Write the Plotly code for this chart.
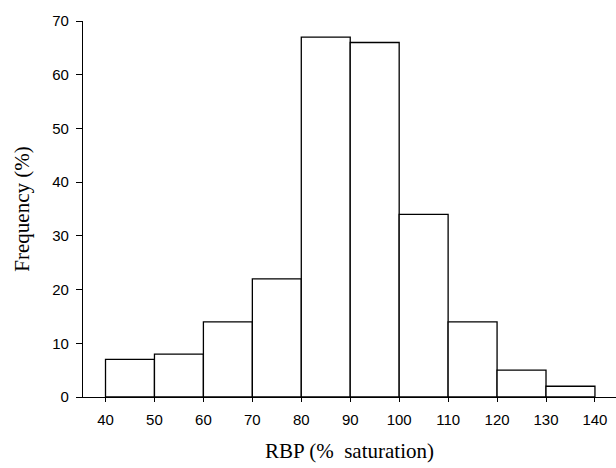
import plotly.graph_objects as go

bin_starts = [40, 50, 60, 70, 80, 90, 100, 110, 120, 130]
frequency = [7, 8, 14, 22, 67, 66, 34, 14, 5, 2]
x_ticks = [40, 50, 60, 70, 80, 90, 100, 110, 120, 130, 140]
y_ticks = [0, 10, 20, 30, 40, 50, 60, 70]
bin_width = 10

fig = go.Figure(go.Bar(
    x=[s + bin_width / 2 for s in bin_starts],
    y=frequency,
    width=bin_width,
    marker=dict(color="white", line=dict(color="black", width=1.3)),
    cliponaxis=False,
))

fig.update_layout(
    width=616, height=468,
    margin=dict(l=83, r=0, t=21, b=71, autoexpand=False),
    paper_bgcolor="white", plot_bgcolor="white",
    showlegend=False,
    font=dict(family="Liberation Sans, Arial", size=15, color="black"),
)
fig.update_xaxes(
    range=[35.4, 144.3], tickvals=x_ticks, ticks="outside", ticklen=4,
    tickcolor="black", showline=True, linecolor="black", linewidth=1.3,
    showgrid=False, zeroline=False, automargin=False, ticklabelstandoff=5,
    title=dict(text="RBP (%\u00a0\u00a0saturation)", font=dict(family="Liberation Serif, Times New Roman", size=21), standoff=16),
)
fig.update_yaxes(
    range=[0, 70], tickvals=y_ticks, ticks="outside", ticklen=6,
    tickcolor="black", showline=True, linecolor="black", linewidth=1.3,
    showgrid=False, zeroline=False, ticklabelstandoff=4, automargin=False,
    title=dict(text="Frequency (%)", font=dict(family="Liberation Serif, Times New Roman", size=21), standoff=16),
)
fig.write_html("out.html", config={"displayModeBar": False},
               post_script="document.body.style.margin='0';")
